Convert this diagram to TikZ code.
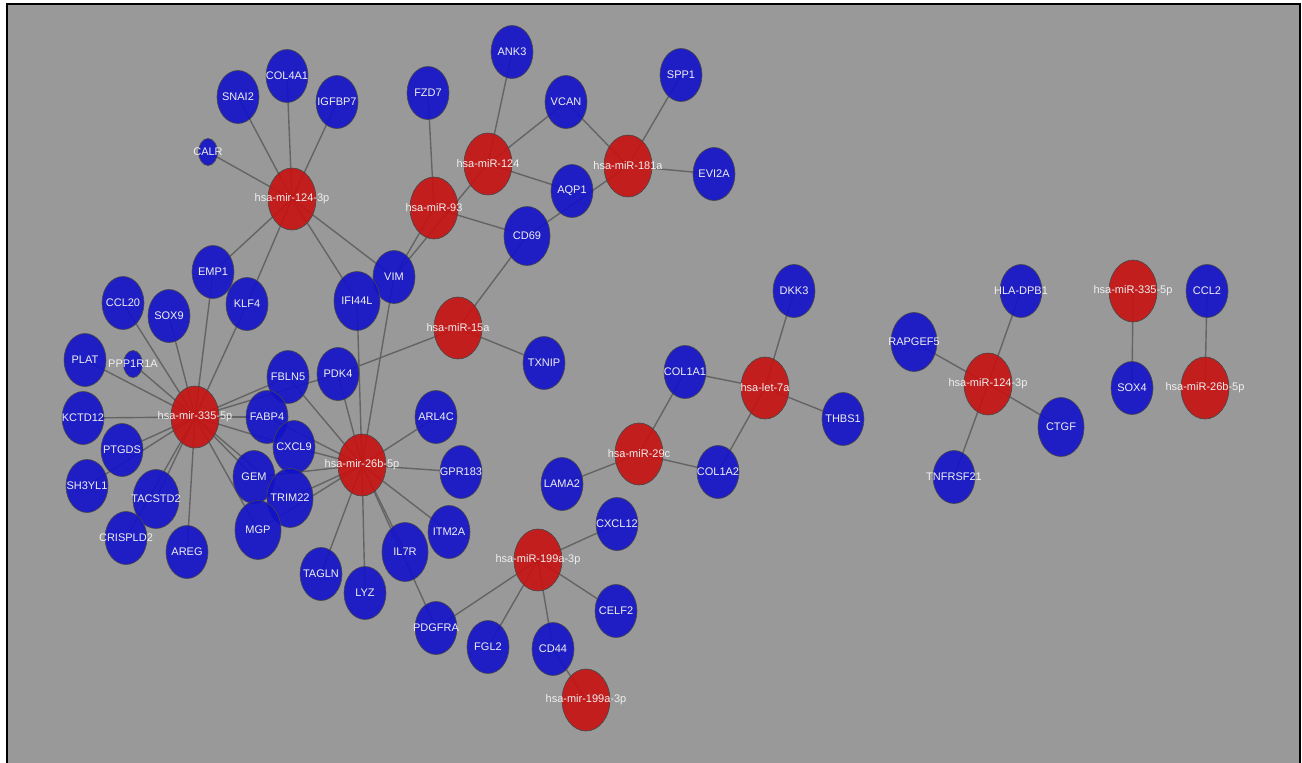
\documentclass[tikz,border=0pt]{standalone}
\usepackage{fontspec}
\setmainfont{Liberation Sans}
\usetikzlibrary{shapes.geometric}
\pgfdeclarelayer{bg}
\pgfdeclarelayer{edges}
\pgfsetlayers{bg,edges,main}
\definecolor{bgray}{RGB}{153,153,153}
\definecolor{nblue}{RGB}{17,17,201}
\definecolor{nred}{RGB}{199,17,17}
\definecolor{ndraw}{RGB}{70,70,70}
\definecolor{ecol}{RGB}{100,100,100}
\definecolor{tcol}{RGB}{240,240,240}
\begin{document}
\begin{tikzpicture}[x=1pt,y=-1pt,
  lbl/.style={text=tcol, fill opacity=1, text opacity=1, inner sep=0pt, font=\fontsize{11}{13}\selectfont},
  gene/.style={ellipse, draw=ndraw, line width=0.6pt, fill=nblue, fill opacity=0.9, minimum width=42pt, minimum height=53pt, inner sep=0pt, label={[lbl]center:#1}},
  biggene/.style={gene=#1, minimum width=46pt, minimum height=59pt},
  smallgene/.style={gene=#1, minimum width=19pt, minimum height=27pt},
  mir/.style={ellipse, draw=ndraw, line width=0.6pt, fill=nred, fill opacity=0.9, minimum width=48pt, minimum height=62pt, inner sep=0pt, label={[lbl]center:#1}},
  edge/.style={draw=ecol, line width=1.4pt}]
\useasboundingbox (0,0) rectangle (1302,763);
\begin{pgfonlayer}{bg}
\fill[white] (0,0) rectangle (1302,763);
\fill[bgray] (7,4) rectangle (1300,763);
\draw[black, line width=2.5pt] (7,763) -- (7,4) -- (1300,4) -- (1300,763);
\end{pgfonlayer}
% miRNA nodes
\node[mir=hsa-mir-124-3p] (m1243p) at (292,199) {};
\node[mir=hsa-miR-124] (m124) at (488,164) {};
\node[mir=hsa-miR-181a] (m181a) at (628,166) {};
\node[mir=hsa-miR-93] (m93) at (434,208) {};
\node[mir=hsa-miR-15a] (m15a) at (458,328) {};
\node[mir=hsa-mir-335-5p] (m3355p) at (195,417) {};
\node[mir=hsa-mir-26b-5p] (m26b) at (362,465) {};
\node[mir=hsa-miR-29c] (m29c) at (639,454) {};
\node[mir=hsa-let-7a] (let7a) at (765,388) {};
\node[mir=hsa-miR-199a-3p] (m199a) at (538,560) {};
\node[mir=hsa-mir-199a-3p] (m199b) at (586,700) {};
\node[mir=hsa-miR-124-3p] (r1243p) at (988,384) {};
\node[mir=hsa-miR-335-5p] (r335) at (1133,291) {};
\node[mir=hsa-miR-26b-5p] (r26b) at (1205,388) {};
% gene nodes
\node[gene=SNAI2] (SNAI2) at (238,97) {};
\node[gene=COL4A1] (COL4A1) at (287,76) {};
\node[gene=IGFBP7] (IGFBP7) at (337,102) {};
\node[smallgene=CALR] (CALR) at (208,152) {};
\node[gene=FZD7] (FZD7) at (428,93) {};
\node[gene=ANK3] (ANK3) at (512,52) {};
\node[gene=VCAN] (VCAN) at (566,102) {};
\node[gene=SPP1] (SPP1) at (681,75) {};
\node[gene=EVI2A] (EVI2A) at (714,174) {};
\node[gene=AQP1] (AQP1) at (572,191) {};
\node[biggene=CD69] (CD69) at (527,236) {};
\node[gene=VIM] (VIM) at (394,277) {};
\node[biggene=IFI44L] (IFI44L) at (357,301) {};
\node[gene=EMP1] (EMP1) at (213,272) {};
\node[gene=KLF4] (KLF4) at (247,304) {};
\node[gene=CCL20] (CCL20) at (123,303) {};
\node[gene=SOX9] (SOX9) at (169,316) {};
\node[gene=PLAT] (PLAT) at (85,360) {};
\node[smallgene=PPP1R1A] (PPP1R1A) at (133,364) {};
\node[gene=KCTD12] (KCTD12) at (83,418) {};
\node[gene=PTGDS] (PTGDS) at (122,450) {};
\node[gene=SH3YL1] (SH3YL1) at (87,486) {};
\node[biggene=TACSTD2] (TACSTD2) at (156,499) {};
\node[gene=CRISPLD2] (CRISPLD2) at (126,538) {};
\node[gene=AREG] (AREG) at (187,552) {};
\node[gene=FBLN5] (FBLN5) at (288,377) {};
\node[gene=PDK4] (PDK4) at (338,374) {};
\node[gene=FABP4] (FABP4) at (267,417) {};
\node[gene=CXCL9] (CXCL9) at (294,447) {};
\node[gene=GEM] (GEM) at (254,477) {};
\node[biggene=TRIM22] (TRIM22) at (290,498) {};
\node[biggene=MGP] (MGP) at (258,530) {};
\node[gene=ARL4C] (ARL4C) at (436,417) {};
\node[gene=GPR183] (GPR183) at (461,472) {};
\node[gene=ITM2A] (ITM2A) at (449,532) {};
\node[biggene=IL7R] (IL7R) at (405,552) {};
\node[gene=TAGLN] (TAGLN) at (321,574) {};
\node[gene=LYZ] (LYZ) at (365,593) {};
\node[gene=PDGFRA] (PDGFRA) at (436,628) {};
\node[gene=FGL2] (FGL2) at (488,647) {};
\node[gene=CD44] (CD44) at (553,649) {};
\node[gene=CXCL12] (CXCL12) at (617,524) {};
\node[gene=CELF2] (CELF2) at (616,611) {};
\node[gene=LAMA2] (LAMA2) at (562,484) {};
\node[gene=COL1A1] (COL1A1) at (685,372) {};
\node[gene=COL1A2] (COL1A2) at (718,472) {};
\node[gene=DKK3] (DKK3) at (794,291) {};
\node[gene=THBS1] (THBS1) at (843,419) {};
\node[gene=TXNIP] (TXNIP) at (544,363) {};
\node[gene=HLA-DPB1] (HLADPB1) at (1021,291) {};
\node[biggene=RAPGEF5] (RAPGEF5) at (914,342) {};
\node[biggene=CTGF] (CTGF) at (1061,427) {};
\node[gene=TNFRSF21] (TNFRSF21) at (954,477) {};
\node[gene=CCL2] (CCL2) at (1207,291) {};
\node[gene=SOX4] (SOX4) at (1132,388) {};
% edges
\begin{pgfonlayer}{edges}
\foreach \a/\b in {
  m1243p/SNAI2, m1243p/COL4A1, m1243p/IGFBP7, m1243p/CALR, m1243p/EMP1, m1243p/KLF4, m1243p/IFI44L, m1243p/VIM,
  m93/FZD7, m93/VIM, m93/CD69,
  m124/ANK3, m124/VCAN, m124/AQP1, m124/VIM,
  m181a/VCAN, m181a/SPP1, m181a/EVI2A, m181a/CD69,
  CD69/m15a, m15a/TXNIP, m15a/PDK4,
  m3355p/CCL20, m3355p/SOX9, m3355p/PLAT, m3355p/PPP1R1A, m3355p/KCTD12, m3355p/PTGDS, m3355p/SH3YL1,
  m3355p/TACSTD2, m3355p/CRISPLD2, m3355p/AREG, m3355p/EMP1, m3355p/KLF4, m3355p/FBLN5, m3355p/PDK4,
  m3355p/FABP4, m3355p/CXCL9, m3355p/GEM, m3355p/MGP, m3355p/TRIM22,
  m26b/IFI44L, m26b/VIM, m26b/PDK4, m26b/FBLN5, m26b/FABP4, m26b/CXCL9, m26b/GEM, m26b/TRIM22, m26b/MGP,
  m26b/ARL4C, m26b/GPR183, m26b/ITM2A, m26b/IL7R, m26b/PDGFRA, m26b/LYZ, m26b/TAGLN,
  m199a/PDGFRA, m199a/FGL2, m199a/CD44, m199a/CXCL12, m199a/CELF2, CD44/m199b,
  m29c/LAMA2, m29c/COL1A1, m29c/COL1A2,
  let7a/COL1A1, let7a/COL1A2, let7a/DKK3, let7a/THBS1,
  r1243p/HLADPB1, r1243p/RAPGEF5, r1243p/CTGF, r1243p/TNFRSF21,
  r335/SOX4, r26b/CCL2}
  \draw[edge] (\a.center) -- (\b.center);
\end{pgfonlayer}
\end{tikzpicture}
\end{document}
